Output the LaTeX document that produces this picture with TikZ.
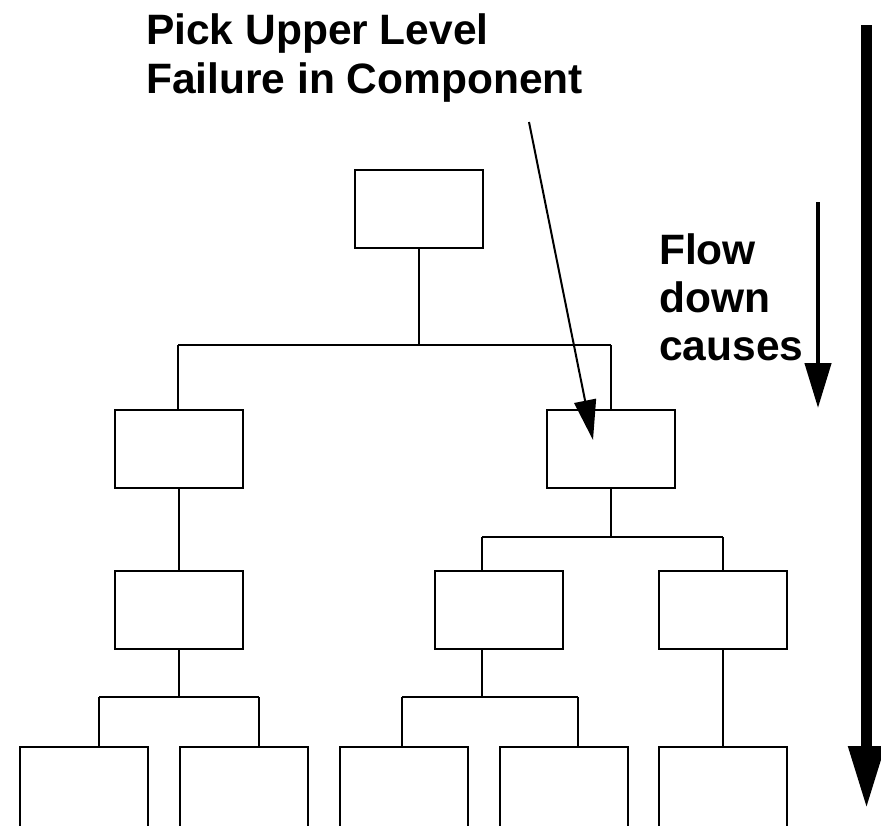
\documentclass[tikz,border=0pt]{standalone}
\usepackage{fontspec}
\setmainfont{Liberation Sans}
\usetikzlibrary{arrows.meta}
\begin{document}
\begin{tikzpicture}[x=1pt,y=-1pt,
  fbox/.style={draw,line width=2pt,minimum width=128pt,minimum height=78pt,inner sep=0pt,outer sep=0pt},
  leaf/.style={fbox,minimum height=120pt},
  wire/.style={line width=2pt},
  lbl/.style={font=\bfseries\fontsize{42.5}{48}\selectfont,inner sep=0pt,anchor=base west}]
\clip (0,0) rectangle (881,825);
\fill[white] (0,0) rectangle (881,825);
% boxes
\node[fbox] (top) at (419,209) {};
\node[fbox] (l2a) at (179,448.5) {};
\node[fbox] (l2b) at (611,448.5) {};
\node[fbox] (l3a) at (179,610) {};
\node[fbox] (l3b) at (499,610) {};
\node[fbox] (l3c) at (722.5,610) {};
\node[leaf] (l4a) at (83.5,807) {};
\node[leaf] (l4b) at (243.5,807) {};
\node[leaf] (l4c) at (403.5,807) {};
\node[leaf] (l4d) at (563.5,807) {};
\node[leaf] (l4e) at (722.5,807) {};
% junction coordinates
\coordinate (b1l) at (178,345);
\coordinate (b1r) at (611,345);
\coordinate (b2l) at (482,537);
\coordinate (b2r) at (722.5,537);
\coordinate (b3l) at (99,697);
\coordinate (b3r) at (259,697);
\coordinate (b4l) at (402,697);
\coordinate (b4m) at (482,697);
\coordinate (b4r) at (578,697);
% connectors
\draw[wire] (top.south) -- (top.south |- b1l);
\draw[wire] (b1l) -- (b1r);
\draw[wire] (b1l) -- (b1l |- l2a.north);
\draw[wire] (b1r) -- (b1r |- l2b.north);
\draw[wire] (l2a.south) -- (l3a.north);
\draw[wire] (l2b.south) -- (l2b.south |- b2l);
\draw[wire] (b2l) -- (b2r);
\draw[wire] (b2l) -- (b2l |- l3b.north);
\draw[wire] (b2r) -- (l3c.north);
\draw[wire] (l3a.south) -- (l3a.south |- b3l);
\draw[wire] (b3l) -- (b3r);
\draw[wire] (b3l) -- (b3l |- l4a.north);
\draw[wire] (b3r) -- (b3r |- l4b.north);
\draw[wire] (b4m |- l3b.south) -- (b4m);
\draw[wire] (b4l) -- (b4r);
\draw[wire] (b4l) -- (b4l |- l4c.north);
\draw[wire] (b4r) -- (b4r |- l4d.north);
\draw[wire] (l3c.south) -- (l4e.north);
% labels
\node[lbl] (pick1) at (146,44) {Pick Upper Level};
\node[lbl] (pick2) at (146,93) {Failure in Component};
\node[lbl] (flow1) at (659,264) {Flow};
\node[lbl] (flow2) at (659,312) {down};
\node[lbl] (flow3) at (659,360) {causes};
% arrows
\coordinate (pickstart) at (529,122);
\coordinate (picktip) at (593,440);
\draw[line width=2pt,-{Triangle[length=40pt,width=22pt]}] (pickstart) -- (picktip);
\coordinate (flowtop) at (818,202);
\coordinate (flowtip) at (818,408);
\draw[line width=4.5pt,-{Triangle[length=45pt,width=26pt]}] (flowtop) -- (flowtip);
\coordinate (bigtop) at (866.5,25);
\coordinate (bigtip) at (866.5,809);
\draw[line width=11pt,-{Triangle[length=63pt,width=34pt]}] (bigtop) -- (bigtip);
\end{tikzpicture}
\end{document}
